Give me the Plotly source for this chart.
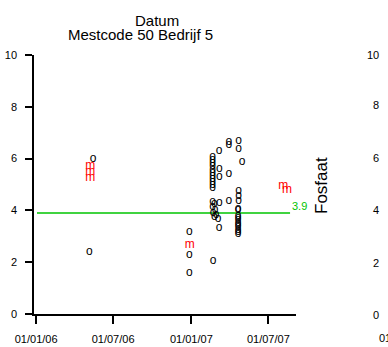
import plotly.graph_objects as go

# ---- data ----
circle_dates = [
    "2006-05-15", "2006-05-06",
    "2006-12-27", "2006-12-27", "2006-12-27", "2007-02-21",
    "2007-02-20", "2007-02-20", "2007-02-20", "2007-02-20", "2007-02-20", "2007-02-20",
    "2007-02-20", "2007-02-20", "2007-02-20", "2007-02-20", "2007-02-20",
    "2007-02-20", "2007-02-24", "2007-02-20", "2007-02-26", "2007-02-21", "2007-02-28",
    "2007-02-24", "2007-03-05",
    "2007-03-07", "2007-03-08", "2007-03-08", "2007-03-08", "2007-03-07",
    "2007-03-30", "2007-03-30", "2007-03-30", "2007-03-30",
    "2007-04-22", "2007-04-22", "2007-04-30",
    "2007-04-22", "2007-04-22", "2007-04-22", "2007-04-21", "2007-04-21",
    "2007-04-21", "2007-04-21", "2007-04-21", "2007-04-21", "2007-04-21",
    "2007-04-21", "2007-04-21", "2007-04-21", "2007-04-21",
]
circle_values = [
    5.98, 2.41,
    3.17, 2.27, 1.60, 2.06,
    6.06, 5.95, 5.82, 5.70, 5.56, 5.45,
    5.33, 5.20, 5.10, 4.98, 4.85,
    4.34, 4.25, 4.12, 4.02, 3.91, 3.82,
    3.73, 3.66,
    6.30, 5.58, 5.30, 4.29, 3.31,
    6.66, 6.52, 5.40, 4.36,
    6.69, 6.37, 5.86,
    4.74, 4.56, 4.38, 4.07, 4.03,
    3.78, 3.70, 3.62, 3.52, 3.43,
    3.34, 3.25, 3.17, 3.10,
]
m_dates = ["2006-05-08", "2006-05-08", "2006-05-08", "2006-12-28", "2007-08-05", "2007-08-14"]
m_values = [5.70, 5.48, 5.27, 2.68, 4.96, 4.79]

ref_value = 3.9
ref_dates = ["2006-01-03", "2007-08-21"]

x_tickvals = ["2006-01-01", "2006-07-01", "2007-01-01", "2007-07-01"]
x_ticktext = ["01/01/06", "01/07/06", "01/01/07", "01/07/07"]
y_tickvals = [0, 2, 4, 6, 8, 10]
y_ticktext = ["0", "2", "4", "6", "8", "10"]

title_line1 = "Datum"
title_line2 = "Mestcode 50 Bedrijf 5"
right_ylabel = "Fosfaat"

# ---- layout geometry ----
W, H = 388, 347
L, R, T, B = 34, 92, 55, 33
PW, PH = W - L - R, H - T - B
FONT = "Liberation Sans"
GREEN = "#00C400"


def px(x):
    return (x - L) / PW


def py(y):
    return (H - B - y) / PH


fig = go.Figure()

fig.add_trace(go.Scatter(
    x=ref_dates, y=[ref_value, ref_value], mode="lines",
    line=dict(color=GREEN, width=1.3), hoverinfo="skip", showlegend=False,
))
fig.add_trace(go.Scatter(
    x=circle_dates, y=circle_values, mode="text", text=["o"] * len(circle_values),
    textfont=dict(family=FONT, size=12, color="black"), showlegend=False,
))
fig.add_trace(go.Scatter(
    x=m_dates, y=m_values, mode="text", text=["m"] * len(m_values),
    textfont=dict(family=FONT, size=12, color="#FF0000"), showlegend=False,
))


def ann(text, x, y, size, color="black", xanchor="center", angle=0):
    return dict(text=text, x=px(x), y=py(y), xref="paper", yref="paper",
                xanchor=xanchor, yanchor="middle", showarrow=False, textangle=angle,
                font=dict(family=FONT, size=size, color=color))


annotations = [
    ann(title_line1, 156.5, 20, 15),
    ann(title_line2, 140.5, 34.5, 15),
    ann(f"{ref_value}", 289.5, 206, 11, GREEN, xanchor="left"),
    ann(right_ylabel, 321, 186, 17, angle=-90),
]
# partial neighbouring panel (cut off at the right edge)
right_ticks_y = [315, 263, 210, 157.5, 105, 55]
for lab, yy in zip(y_ticktext, right_ticks_y):
    annotations.append(ann(lab, 380.5, yy, 11, xanchor="right"))
annotations.append(ann(x_ticktext[0], 376.5, 338, 11, xanchor="left"))

fig.update_layout(
    width=W, height=H,
    margin=dict(l=L, r=R, t=T, b=B, autoexpand=False),
    paper_bgcolor="white", plot_bgcolor="white",
    showlegend=False,
    annotations=annotations,
    xaxis=dict(
        type="date", range=["2005-12-27", "2007-09-04"],
        tickvals=x_tickvals, ticktext=x_ticktext, automargin=False,
        showgrid=False, zeroline=False,
        showline=True, linecolor="black", linewidth=1.5,
        ticks="outside", ticklen=8, tickwidth=1.5, tickcolor="black",
        tickfont=dict(family=FONT, size=11, color="black"),
        ticklabelstandoff=6,
    ),
    yaxis=dict(
        range=[0, 10], tickvals=y_tickvals, ticktext=y_ticktext, automargin=False,
        showgrid=False, zeroline=False,
        showline=True, linecolor="black", linewidth=1.5,
        ticks="outside", ticklen=7, tickwidth=1.5, tickcolor="black",
        tickfont=dict(family=FONT, size=11, color="black"),
        ticklabelstandoff=6,
    ),
)

fig.write_html("out.html")
